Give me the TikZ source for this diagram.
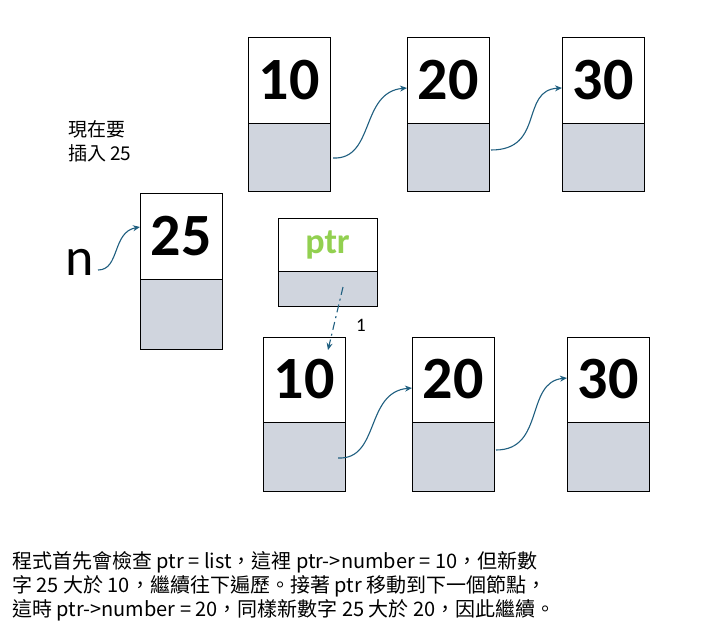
\documentclass[tikz,border=0pt]{standalone}
\usepackage{fontspec}
\setmainfont{Carlito}
\newfontfamily\cjk{Noto Sans CJK TC}
\usetikzlibrary{arrows.meta}
\definecolor{cellgray}{HTML}{D0D5DE}
\definecolor{arr}{HTML}{1F5F80}
\definecolor{ptrgreen}{HTML}{92D050}
\tikzset{
  topcell/.style={draw,line width=0.9pt,fill=white},
  botcell/.style={draw,line width=0.9pt,fill=cellgray},
  num/.style={font=\fontsize{60}{60}\selectfont\bfseries,anchor=center},
  link/.style={draw=arr,line width=1.1pt,-{Stealth[length=7pt,width=6pt]}},
  captext/.style={font=\cjk\fontsize{20}{24}\selectfont,anchor=west,inner sep=0pt}
}
\newcommand{\cell}[6]{% name, x1, x2, ytop, ydiv, ybot
  \path[topcell] (#2,#4) rectangle (#3,#5);
  \path[botcell] (#2,#5) rectangle (#3,#6);
  \coordinate (#1t) at ({(#2+#3)/2},{(#4+#5)/2});
  \coordinate (#1b) at ({(#2+#3)/2},{(#5+#6)/2});
}
\begin{document}
\begin{tikzpicture}[x=1pt,y=-1pt]
\useasboundingbox[fill=white] (0,0) rectangle (703,637);
\cell{a}{248}{330}{37}{123}{191}
\cell{b}{407}{489}{37}{123}{191}
\cell{c}{562}{644}{37}{123}{191}
\cell{n}{140}{222}{193}{279}{349}
\cell{p}{278}{377}{218}{271}{306}
\cell{d}{263}{345}{337}{422}{491}
\cell{e}{412}{494}{337}{422}{491}
\cell{f}{567}{649}{337}{422}{491}
\node[num] (ta) at (at) {10};
\node[num] (tb) at (bt) {20};
\node[num] (tc) at (ct) {30};
\node[num] (tn) at (nt) {25};
\node[font=\fontsize{36}{36}\selectfont\bfseries,text=ptrgreen] (tp) at (pt) {ptr};
\node[num] (td) at (dt) {10};
\node[num] (te) at (et) {20};
\node[num] (tf) at (ft) {30};
\node[font=\cjk\fontsize{19}{24}\selectfont,align=left,anchor=north west,inner sep=0pt] (ins) at (68,120) {現在要\\插入 25};
\node[font=\fontsize{54}{54}\selectfont,inner sep=0pt] (nn) at (80,262) {n};
\coordinate (a0) at (333,158); \coordinate (b1) at (407,88);
\coordinate (b0) at (491,150); \coordinate (c1) at (562,88);
\coordinate (d0) at (338,458); \coordinate (e1) at (412,388);
\coordinate (e0) at (496,450); \coordinate (f1) at (567,378);
\coordinate (n0) at (98,270); \coordinate (n1) at (140,227);
\draw[link] (a0) .. controls (375,160) and (360,92) .. (b1);
\draw[link] (b0) .. controls (545,150) and (520,90) .. (c1);
\draw[link] (d0) .. controls (380,460) and (365,392) .. (e1);
\draw[link] (e0) .. controls (545,450) and (525,382) .. (f1);
\draw[link] (n0) .. controls (120,270) and (112,232) .. (n1);
\coordinate (p0) at (343,287); \coordinate (p1) at (328,350);
\draw[link,dash pattern=on 8pt off 4pt on 2pt off 4pt] (p0) -- (p1);
\node[font=\fontsize{19}{19}\selectfont] (one) at (361,325) {1};
\node[captext] (l1) at (12,562) {程式首先會檢查 ptr = list，這裡 ptr->number = 10，但新數};
\node[captext] (l2) at (12,586) {字 25 大於 10，繼續往下遍歷。接著 ptr 移動到下一個節點，};
\node[captext] (l3) at (12,610) {這時 ptr->number = 20，同樣新數字 25 大於 20，因此繼續。};
\end{tikzpicture}
\end{document}
